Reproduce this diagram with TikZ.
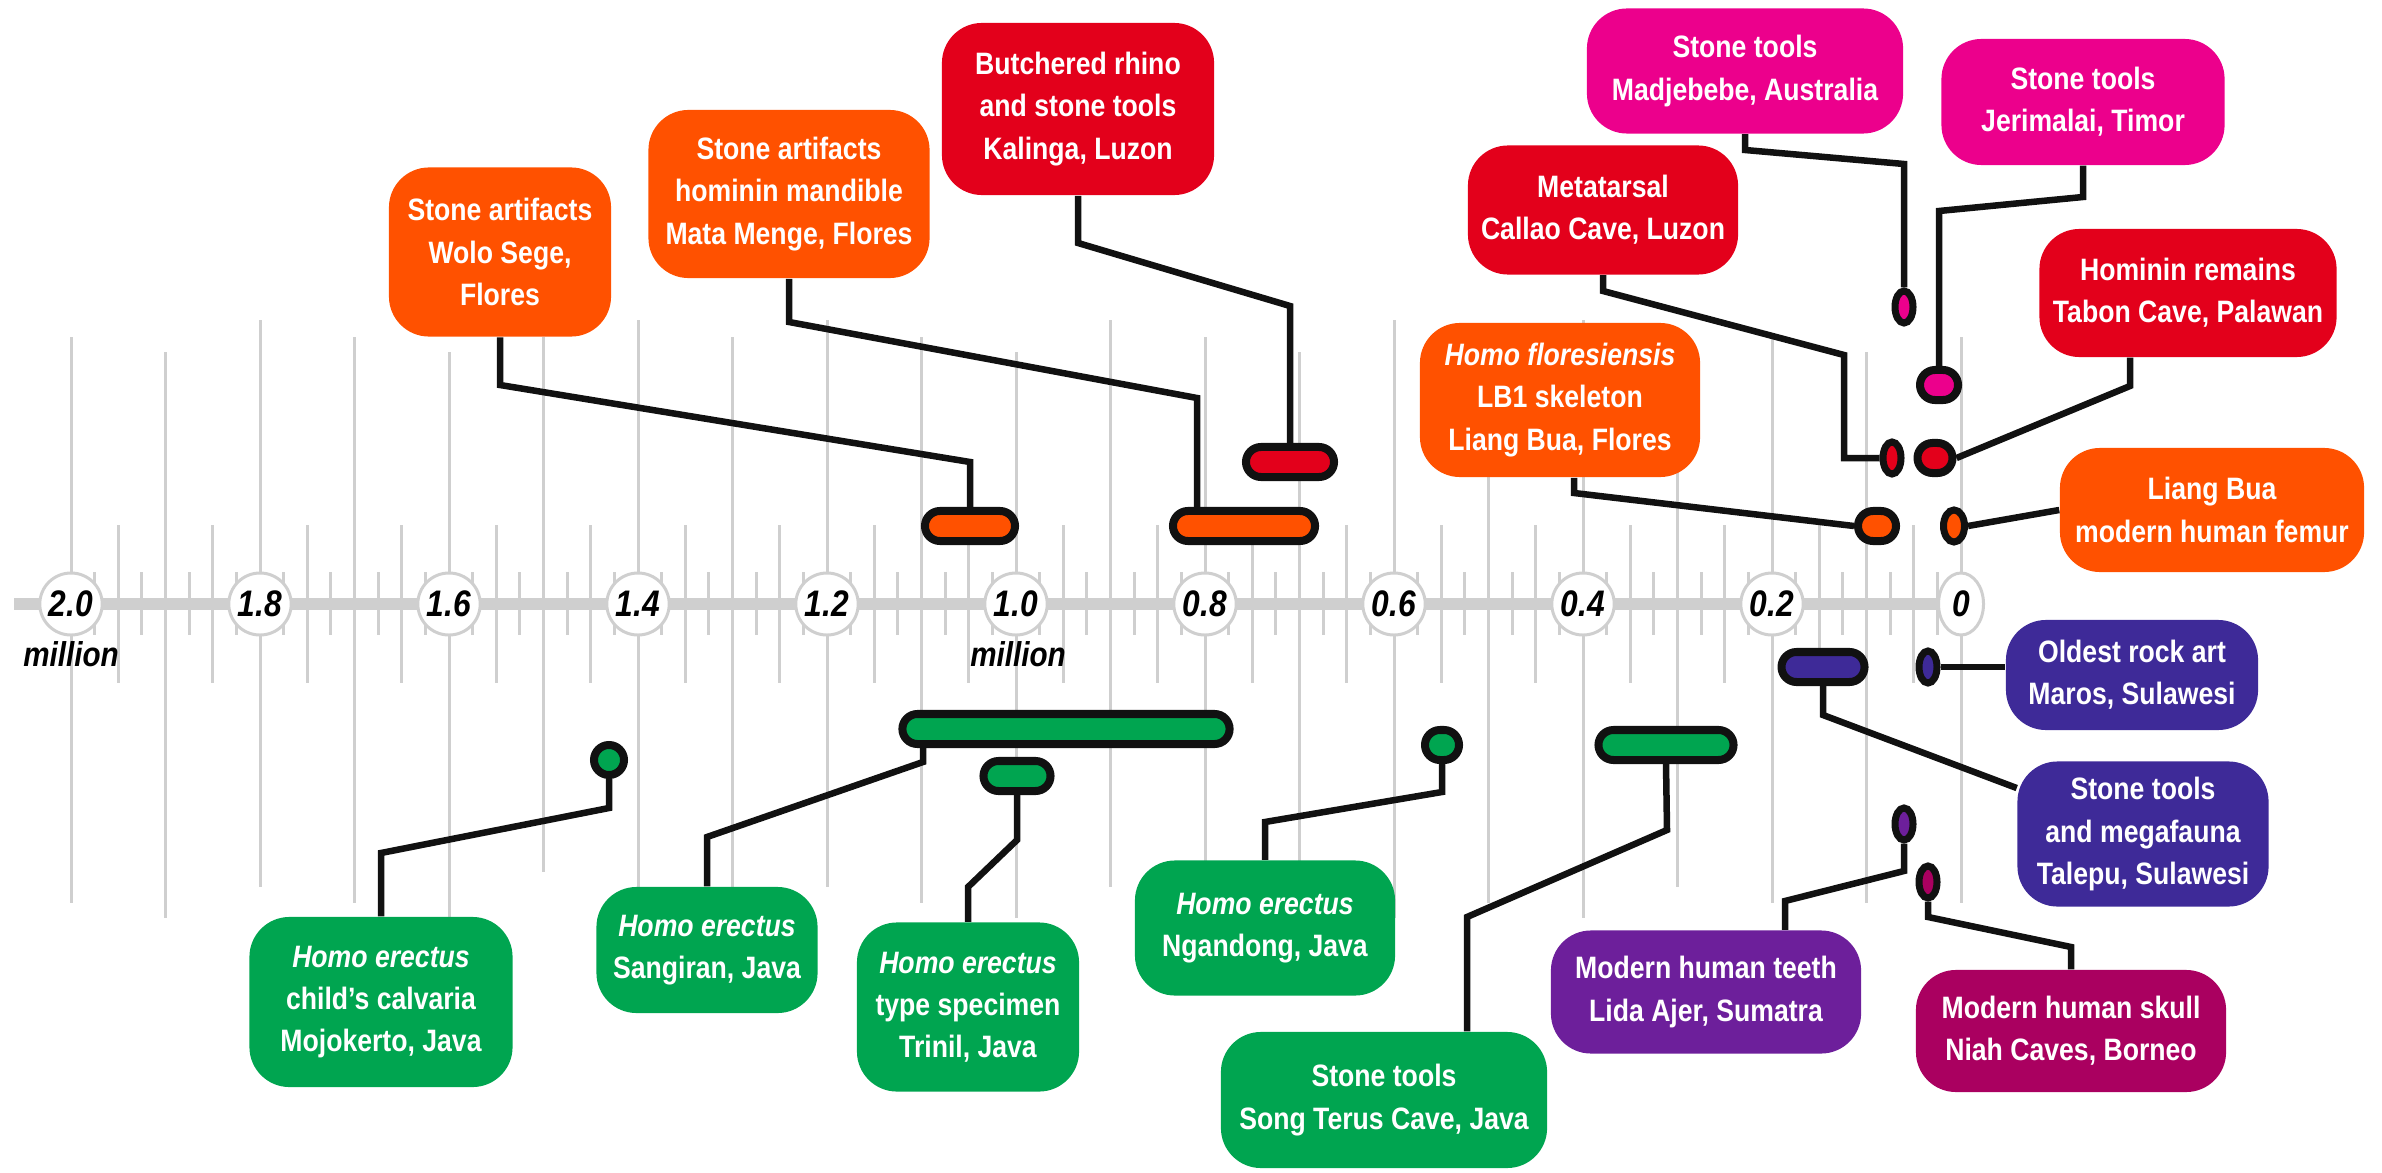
\documentclass[tikz,border=0pt]{standalone}
\usepackage{fontspec}
\setmainfont{Liberation Sans}[FakeStretch=0.86]
\usepackage{xcolor}
\usepackage{tikz}
\usetikzlibrary{shapes.geometric}
\definecolor{orng}{HTML}{FF5100}
\definecolor{crimson}{HTML}{E3001B}
\definecolor{pinkm}{HTML}{EC008C}
\definecolor{leaf}{HTML}{00A550}
\definecolor{indigo}{HTML}{3E2A98}
\definecolor{grape}{HTML}{6D1F9B}
\definecolor{berry}{HTML}{AA0060}
\definecolor{ink}{HTML}{111111}
\definecolor{gridc}{HTML}{CFCFCF}

\begin{document}
\begin{tikzpicture}[x=0.01cm,y=-0.01cm,
  card/.style={rounded corners=0.4cm,text=white,align=center,inner sep=0pt,
    font=\fontsize{8.8}{12}\selectfont\bfseries},
  rangebar/.style={draw=ink,line width=0.08cm,rounded corners=0.15cm,
    minimum height=0.30cm,inner sep=0pt},
  rangedot/.style={ellipse,draw=ink,line width=0.07cm,minimum width=0.18cm,
    minimum height=0.32cm,inner sep=0pt},
  lead/.style={draw=ink,line width=0.065cm},
  gridline/.style={draw=gridc,line width=0.03cm},
  agelabel/.style={ellipse,draw=gridc,fill=white,line width=0.03cm,
    minimum width=0.45cm,minimum height=0.62cm,inner sep=0pt,
    font=\fontsize{10.5}{12}\selectfont\bfseries\itshape},
  millabel/.style={font=\fontsize{9.8}{11}\selectfont\bfseries\itshape}]
\useasboundingbox (0,0) rectangle (2382,1173);

% time grid: long lines every 0.1, shorter every 0.05, ticks every 0.025
\foreach \t/\b [count=\i from 0] in {337/903,352/918,320/887,337/903,352/918,
    337/872,320/887,337/887,320/887,337/903,352/918,320/887,337/918,352/903,
    320/918,337/903,320/918,337/887,337/903,352/903,337/903}
  \draw[gridline] (71+94.5*\i,\t) -- (71+94.5*\i,\b);
\foreach \j in {0,...,19}
  \draw[gridline] (118.25+94.5*\j,525) -- (118.25+94.5*\j,683);
\foreach \m in {0,...,39}
  \draw[gridline] (94.6+47.25*\m,572) -- (94.6+47.25*\m,635);
\draw[gridc,line width=0.12cm] (14,604) -- (1963,604);
\foreach \v [count=\i from 0] in {2.0,1.8,1.6,1.4,1.2,1.0,0.8,0.6,0.4,0.2,0}
  \node[agelabel] (age\i) at (71+189*\i,604) {\v};
\node[millabel] (mila) at (71,654) {million};
\node[millabel] (milb) at (1018,654) {million};

% finds above the axis
\node[card,fill=orng,minimum width=2.22cm,minimum height=1.69cm] (wolo) at (500,252) {Stone artifacts\\Wolo Sege,\\Flores};
\node[card,fill=orng,minimum width=2.81cm,minimum height=1.68cm] (mata) at (789,194) {Stone artifacts\\hominin mandible\\Mata Menge, Flores};
\node[card,fill=crimson,minimum width=2.72cm,minimum height=1.72cm] (kal) at (1078,109) {Butchered rhino\\and stone tools\\Kalinga, Luzon};
\node[card,fill=pinkm,minimum width=3.16cm,minimum height=1.25cm] (madje) at (1745,71) {Stone tools\\Madjebebe, Australia};
\node[card,fill=pinkm,minimum width=2.83cm,minimum height=1.26cm] (jeri) at (2083,102) {Stone tools\\Jerimalai, Timor};
\node[card,fill=crimson,minimum width=2.70cm,minimum height=1.29cm] (callao) at (1603,210) {Metatarsal\\Callao Cave, Luzon};
\node[card,fill=crimson,minimum width=2.97cm,minimum height=1.28cm] (tabon) at (2188,293) {Hominin remains\\Tabon Cave, Palawan};
\node[card,fill=orng,minimum width=2.80cm,minimum height=1.54cm] (lbone) at (1560,400) {\textit{Homo floresiensis}\\LB1 skeleton\\Liang Bua, Flores};
\node[card,fill=orng,minimum width=3.04cm,minimum height=1.24cm] (femur) at (2212,510) {Liang Bua\\modern human femur};

\node[rangebar,fill=orng,minimum width=0.90cm] (bwolo) at (970,526) {};
\node[rangebar,fill=orng,minimum width=1.42cm] (bmata) at (1244,526) {};
\node[rangebar,fill=crimson,minimum width=0.88cm] (bkal) at (1290,462) {};
\node[rangebar,fill=orng,minimum width=0.38cm] (blb1) at (1877,526) {};
\node[rangebar,fill=crimson,minimum width=0.35cm] (btabon) at (1935,458) {};
\node[rangebar,fill=pinkm,minimum width=0.38cm] (bjeri) at (1939,385) {};
\node[rangedot,fill=orng,minimum width=0.21cm] (dfemur) at (1954,526) {};
\node[rangedot,fill=crimson] (dcallao) at (1892,458) {};
\node[rangedot,fill=pinkm] (dmadje) at (1904,307) {};

% finds below the axis
\node[card,fill=indigo,minimum width=2.52cm,minimum height=1.10cm] (maros) at (2132,675) {Oldest rock art\\Maros, Sulawesi};
\node[card,fill=indigo,minimum width=2.51cm,minimum height=1.45cm] (talepu) at (2143,834) {Stone tools\\and megafauna\\Talepu, Sulawesi};
\node[card,fill=leaf,minimum width=2.63cm,minimum height=1.70cm] (mojo) at (381,1002) {\textit{Homo erectus}\\child’s calvaria\\Mojokerto, Java};
\node[card,fill=leaf,minimum width=2.21cm,minimum height=1.26cm] (sangi) at (707,950) {\textit{Homo erectus}\\Sangiran, Java};
\node[card,fill=leaf,minimum width=2.22cm,minimum height=1.69cm] (trinil) at (968,1007) {\textit{Homo erectus}\\type specimen\\Trinil, Java};
\node[card,fill=leaf,minimum width=2.60cm,minimum height=1.35cm] (ngan) at (1265,928) {\textit{Homo erectus}\\Ngandong, Java};
\node[card,fill=leaf,minimum width=3.26cm,minimum height=1.36cm] (song) at (1384,1100) {Stone tools\\Song Terus Cave, Java};
\node[card,fill=grape,minimum width=3.10cm,minimum height=1.23cm] (lida) at (1706,992) {Modern human teeth\\Lida Ajer, Sumatra};
\node[card,fill=berry,minimum width=3.10cm,minimum height=1.22cm] (niah) at (2071,1031) {Modern human skull\\Niah Caves, Borneo};

\node[rangebar,fill=indigo,minimum width=0.83cm] (btalepu) at (1823,667) {};
\node[rangebar,fill=leaf,minimum width=3.27cm] (bsangi) at (1066,729) {};
\node[rangebar,fill=leaf,minimum width=0.67cm] (btrinil) at (1017,776) {};
\node[rangebar,fill=leaf,minimum width=0.30cm] (bmojo) at (609,760) {};
\node[rangebar,fill=leaf,minimum width=0.34cm] (bngan) at (1442,745) {};
\node[rangebar,fill=leaf,minimum width=1.35cm] (bsong) at (1666,745) {};
\node[rangedot,fill=indigo] (dmaros) at (1928,667) {};
\node[rangedot,fill=grape] (dlida) at (1904,824) {};
\node[rangedot,fill=berry] (dniah) at (1928,882) {};

% leader lines
\draw[lead] (wolo.south) -- (500,385) -- (970,462) -- (bwolo.north);
\draw[lead] (mata.south) -- (789,322) -- (1197,398) -- (1197,0 |- bmata.north);
\draw[lead] (kal.south) -- (1078,243) -- (1290,306) -- (bkal.north);
\draw[lead] (madje.south) -- (1745,150) -- (1904,164) -- (dmadje.north);
\draw[lead] (jeri.south) -- (2083,197) -- (1939,211) -- (bjeri.north);
\draw[lead] (callao.south) -- (1603,291) -- (1844,355) -- (1844,458) -- (dcallao.west);
\draw[lead] (2130,0 |- tabon.south) -- (2130,386) -- (btabon.east);
\draw[lead] (1574,0 |- lbone.south) -- (1574,493) -- (blb1.west);
\draw[lead] (dfemur.east) -- (femur.west);
\draw[lead] (dmaros.east) -- (dmaros.east -| maros.west);
\draw[lead] (btalepu.south) -- (1823,715) -- (talepu.160);
\draw[lead] (923,0 |- bsangi.south) -- (923,762) -- (707,837) -- (sangi.north);
\draw[lead] (btrinil.south) -- (1017,840) -- (968,887) -- (trinil.north);
\draw[lead] (bmojo.south) -- (609,808) -- (381,853) -- (mojo.north);
\draw[lead] (bngan.south) -- (1442,792) -- (1265,822) -- (ngan.north);
\draw[lead] (bsong.south) -- (1667,830) -- (1467,917) -- (1467,0 |- song.north);
\draw[lead] (dlida.south) -- (1904,871) -- (1785,901) -- (1785,0 |- lida.north);
\draw[lead] (dniah.south) -- (1928,917) -- (2071,947) -- (niah.north);
\end{tikzpicture}
\end{document}
